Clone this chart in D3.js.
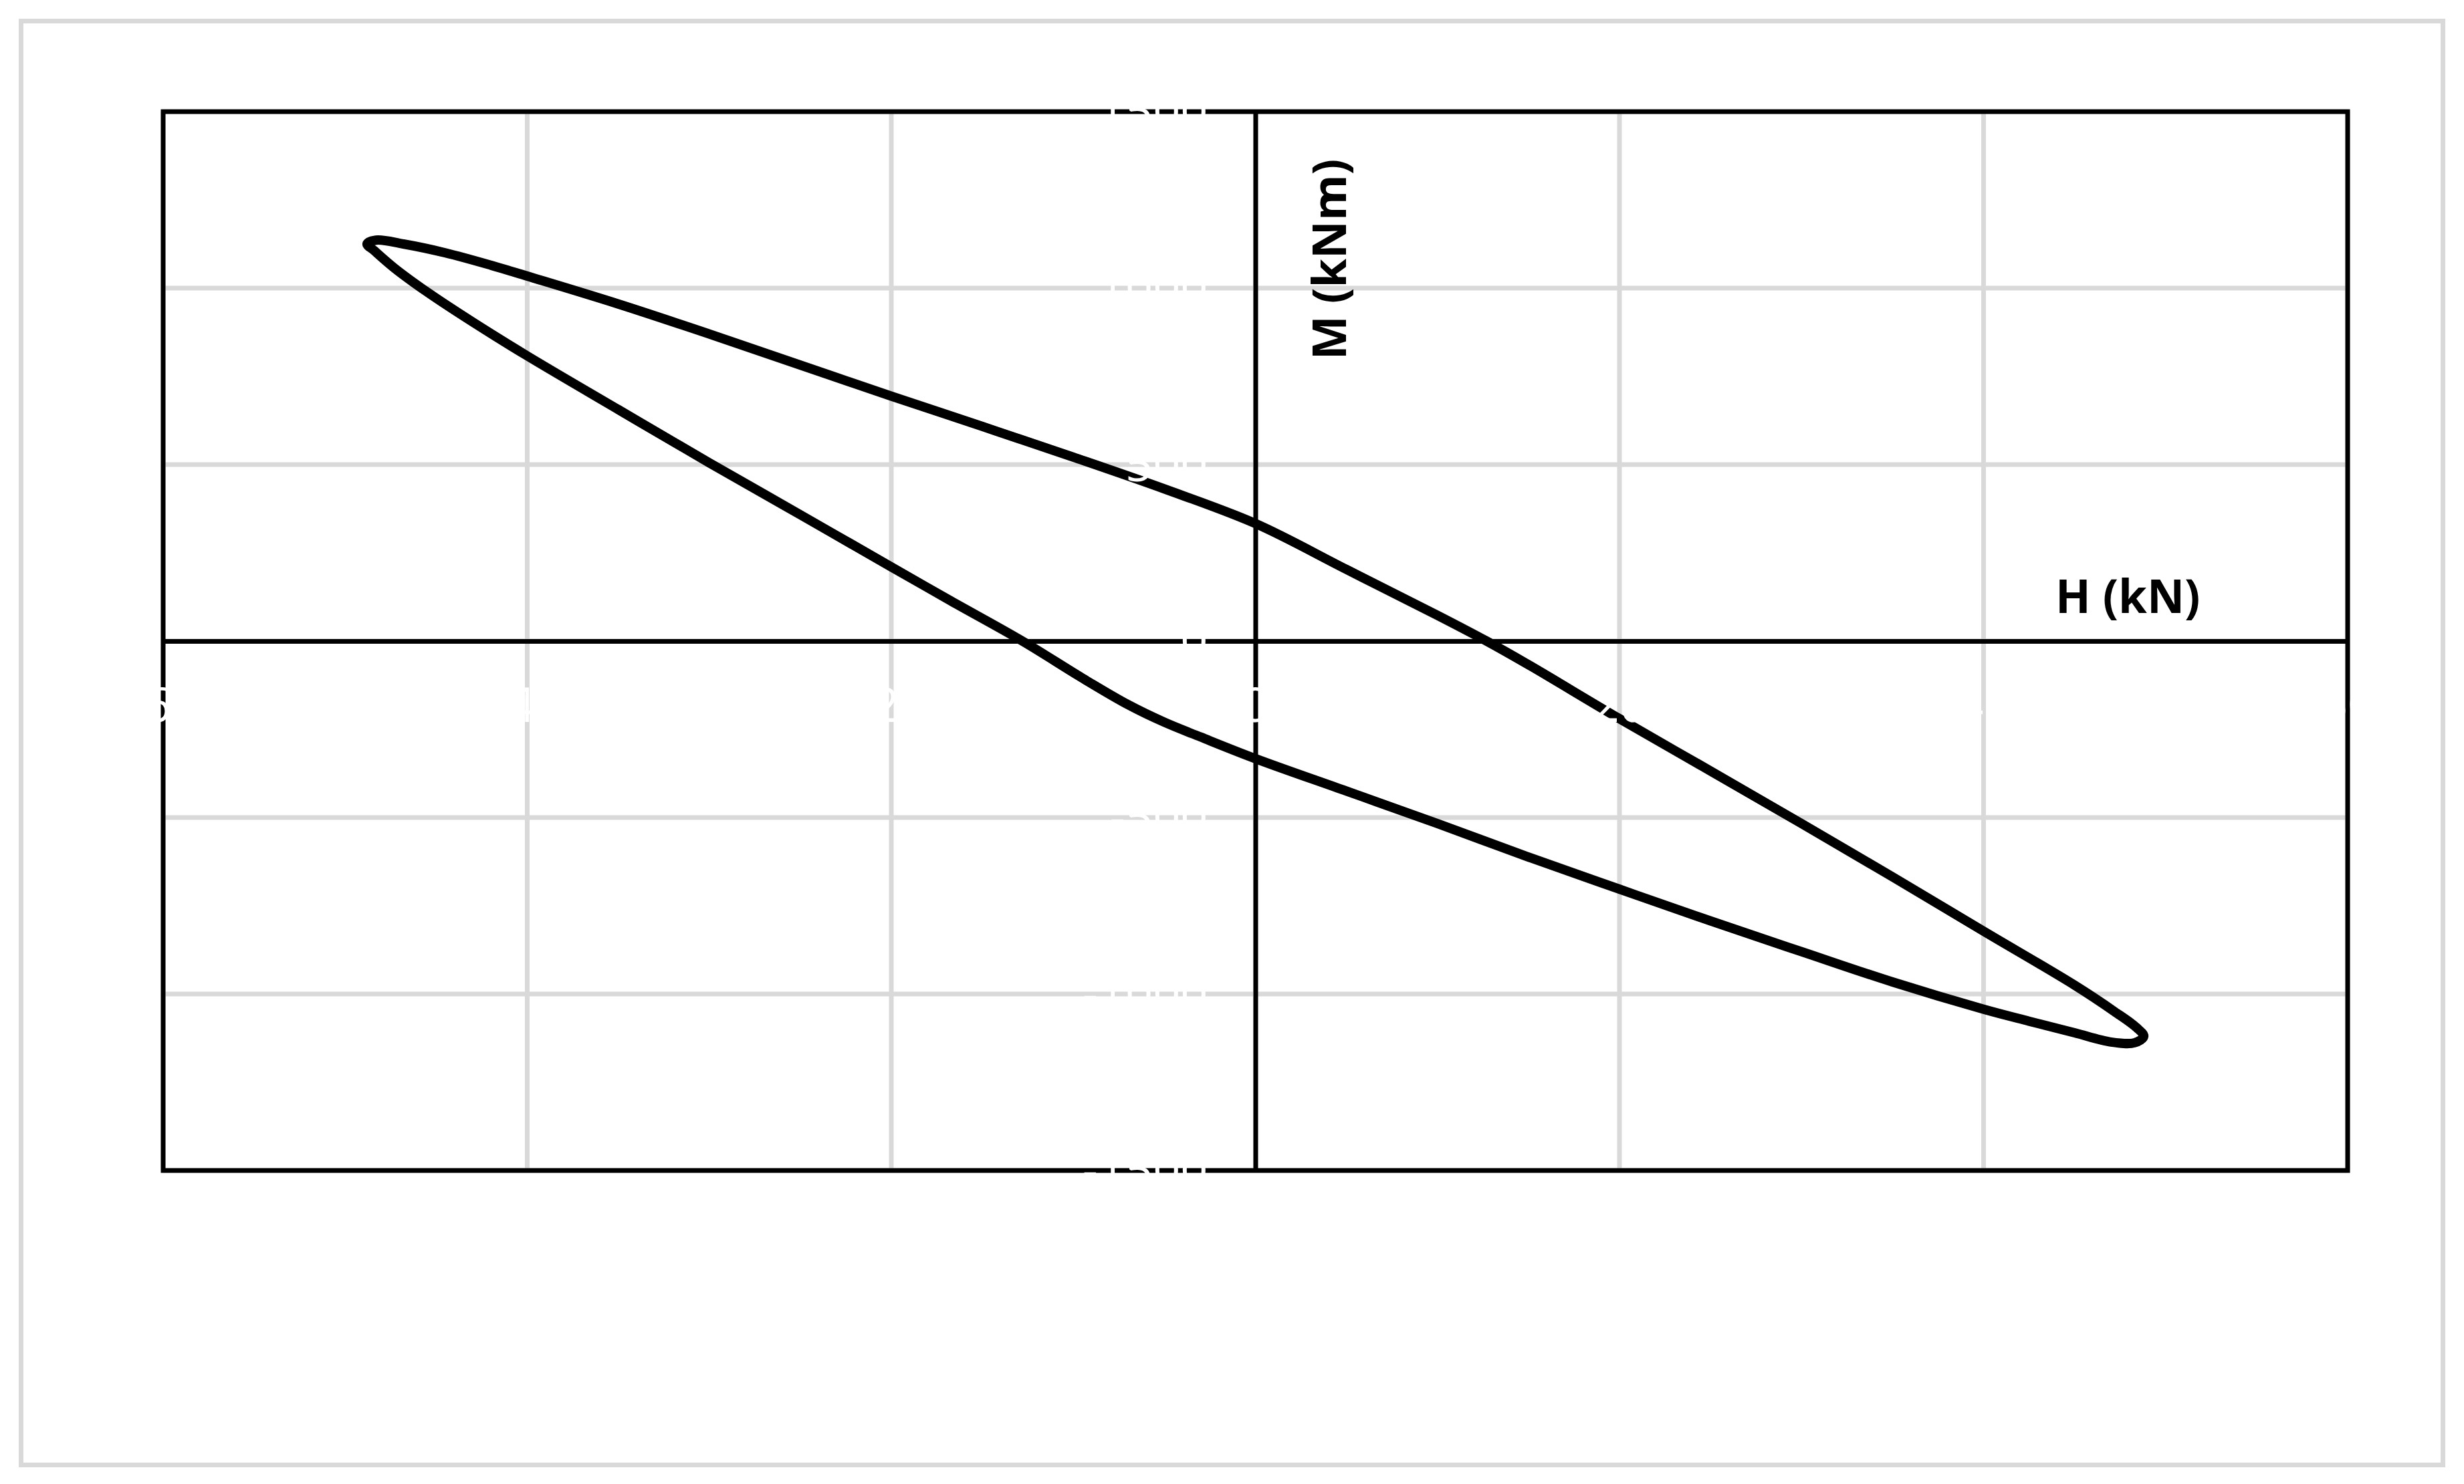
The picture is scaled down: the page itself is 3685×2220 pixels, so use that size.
<!DOCTYPE html>
<html>
<head>
<meta charset="utf-8">
<script src="https://cdn.jsdelivr.net/npm/d3@7"></script>
<style>
  body { margin: 0; background: #fff; }
  svg { display: block; font-family: "Open Sans", "DejaVu Sans", sans-serif; }
</style>
</head>
<body>
<svg id="chart"></svg>
<script>
// tick values on both axes
var xTicks = [-60, -40, -20, 0, 20, 40, 60];
var yTicks = [-1500, -1000, -500, 0, 500, 1000, 1500];

// hysteresis loop: upper branch left -> right, then lower branch back
var hValues = [-48.8, -48.3, -46.8, -44.5, -42.0, -40.0, -35.0, -30.0, -25.0, -20.0, -15.0, -10.0, -5.0, 0.0, 5.0, 10.0, 12.7, 15.0, 20.0, 25.0, 30.0, 35.0, 40.0, 45.0, 47.2, 48.4, 48.8,
               48.3, 47.0, 45.0, 42.5, 40.0, 35.0, 30.0, 25.0, 20.0, 15.0, 10.0, 5.0, 0.0, -3.0, -5.0, -7.0, -9.5, -12.8, -16.7, -20.0, -25.0, -30.0, -35.0, -40.0, -43.0, -45.5, -47.3, -48.4];
var mValues = [1125, 1136, 1125, 1100, 1065, 1034, 955, 870, 782, 694, 608, 521, 431, 333, 203, 73, 0, -67, -220, -368, -517, -668, -822, -975, -1050, -1095, -1120,
               -1138, -1136, -1110, -1077, -1043, -966, -880, -793, -703, -612, -517, -425, -333, -272, -230, -180, -105, 0, 113, 210, 358, 505, 656, 808, 904, 989, 1057, 1106];

var W = 3685, H = 2220;
var margin = { top: 167, right: 174, bottom: 469, left: 244 },
    width = W - margin.left - margin.right,
    height = H - margin.top - margin.bottom;

var svg = d3.select("#chart").attr("width", W).attr("height", H);

// outer chart frame
svg.append("rect")
    .attr("x", 31.5).attr("y", 31.5)
    .attr("width", 3622).attr("height", 2160)
    .attr("fill", "#fff")
    .attr("stroke", "#d9d9d9")
    .attr("stroke-width", 7);

var x = d3.scaleLinear().domain([-60, 60]).range([0, width]);
var y = d3.scaleLinear().domain([-1500, 1500]).range([height, 0]);

var chart = svg.append("g")
    .attr("transform", "translate(" + margin.left + "," + margin.top + ")");

// gridlines
chart.append("g").selectAll("line")
    .data(xTicks)
    .enter().append("line")
    .attr("x1", function(d) { return x(d); })
    .attr("x2", function(d) { return x(d); })
    .attr("y1", 0).attr("y2", height)
    .attr("stroke", "#d9d9d9").attr("stroke-width", 7);

chart.append("g").selectAll("line")
    .data(yTicks)
    .enter().append("line")
    .attr("y1", function(d) { return y(d); })
    .attr("y2", function(d) { return y(d); })
    .attr("x1", 0).attr("x2", width)
    .attr("stroke", "#d9d9d9").attr("stroke-width", 7);

// plot frame
chart.append("rect")
    .attr("width", width).attr("height", height)
    .attr("fill", "none")
    .attr("stroke", "#000")
    .attr("stroke-width", 7);

// axes through the origin
var xAxis = d3.axisBottom(x).tickValues(xTicks).tickSize(0);
var yAxis = d3.axisLeft(y).tickValues(yTicks).tickSize(0);

var gx = chart.append("g")
    .attr("class", "x axis")
    .attr("transform", "translate(0," + y(0) + ")")
    .call(xAxis);

var gy = chart.append("g")
    .attr("class", "y axis")
    .attr("transform", "translate(" + x(0) + ",0)")
    .call(yAxis);

[gx, gy].forEach(function(g) {
    g.select(".domain").attr("stroke", "#000").attr("stroke-width", 7);
    g.selectAll("text").remove();
});

// the loop
var pts = hValues.map(function(h, i) { return [h, mValues[i]]; });

var line = d3.line()
    .x(function(d) { return x(d[0]); })
    .y(function(d) { return y(d[1]); })
    .curve(d3.curveCatmullRomClosed.alpha(0.5));

chart.append("path")
    .datum(pts)
    .attr("d", line)
    .attr("fill", "none")
    .attr("stroke", "#000")
    .attr("stroke-width", 14)
    .attr("stroke-linejoin", "round");

// tick labels drawn on top, white as in the original
chart.append("g").selectAll("text")
    .data(xTicks)
    .enter().append("text")
    .attr("x", function(d) { return x(d); })
    .attr("y", y(0) + 96)
    .attr("dy", "0.35em")
    .attr("text-anchor", "middle")
    .attr("fill", "#fff")
    .style("font-size", "72px")
    .text(function(d) { return d; });

chart.append("g").selectAll("text")
    .data(yTicks)
    .enter().append("text")
    .attr("x", x(0) - 71)
    .attr("y", function(d) { return y(d); })
    .attr("dy", "0.35em")
    .attr("text-anchor", "end")
    .attr("fill", "#fff")
    .style("font-size", "72px")
    .text(function(d) { return d; });

// axis titles
svg.append("text")
    .attr("x", 3074)
    .attr("y", 917)
    .attr("fill", "#000")
    .style("font-size", "69px")
    .style("font-weight", "bold")
    .text("H (kN)");

svg.append("text")
    .attr("transform", "translate(2013,388) rotate(-90)")
    .attr("text-anchor", "middle")
    .attr("fill", "#000")
    .style("font-size", "70px")
    .style("font-weight", "bold")
    .text("M (kNm)");
</script>
</body>
</html>
